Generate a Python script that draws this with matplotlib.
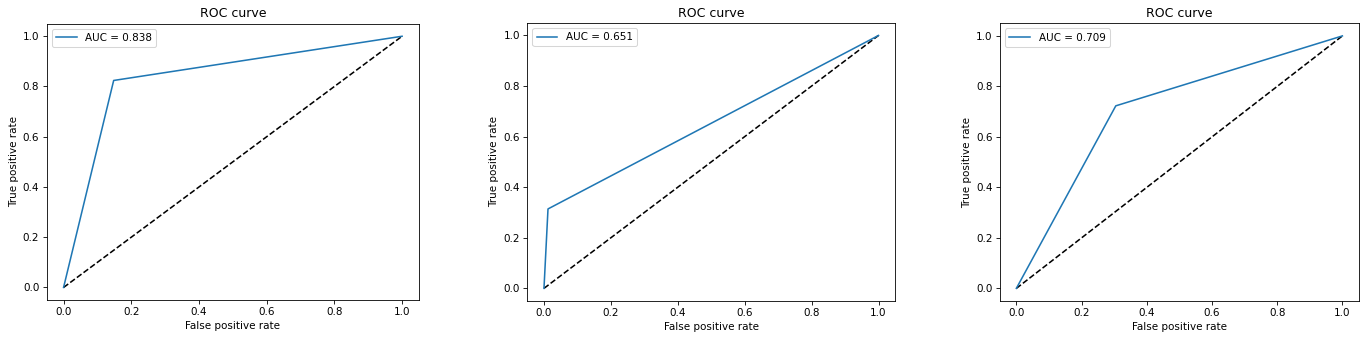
import matplotlib
matplotlib.use("Agg")
import matplotlib.pyplot as plt

# ROC points for the three models (fpr, tpr)
fpr1 = [0.0, 0.148, 1.0]
tpr1 = [0.0, 0.824, 1.0]
fpr2 = [0.0, 0.012, 1.0]
tpr2 = [0.0, 0.314, 1.0]
fpr3 = [0.0, 0.305, 1.0]
tpr3 = [0.0, 0.723, 1.0]
aucs = [0.838, 0.651, 0.709]

fprs = [fpr1, fpr2, fpr3]
tprs = [tpr1, tpr2, tpr3]

fig = plt.figure(figsize=(1372 / 75, 338 / 75), dpi=75)

# axes boxes in figure fractions
boxes = [
    [0.034, 0.1124, 0.2714, 0.8175],
    [0.3843, 0.1095, 0.2682, 0.823],
    [0.7289, 0.1095, 0.2614, 0.8216],
]

for box, fpr, tpr, auc in zip(boxes, fprs, tprs, aucs):
    ax = fig.add_axes(box)
    ax.plot([0, 1], [0, 1], 'k--')
    ax.plot(fpr, tpr, label='AUC = {:.3f}'.format(auc))
    ax.set_xlabel('False positive rate')
    ax.set_ylabel('True positive rate')
    ax.set_title('ROC curve')
    ax.legend(loc='upper left')

fig.savefig('out.png', dpi=75)
